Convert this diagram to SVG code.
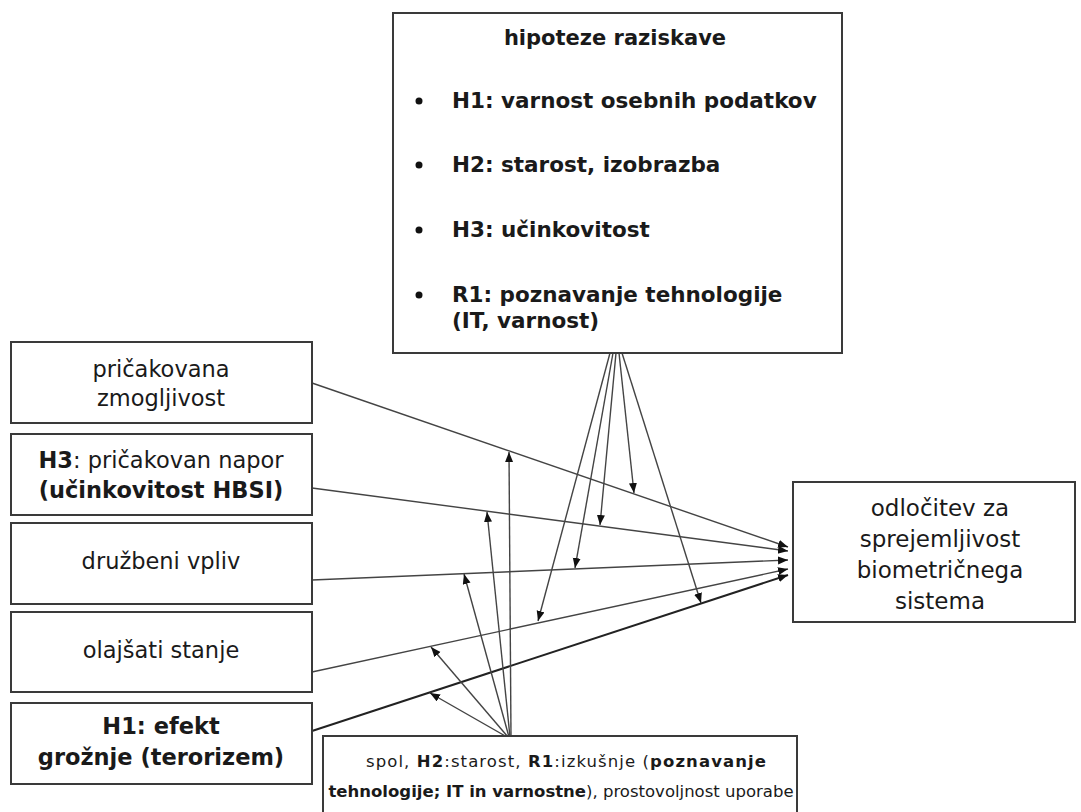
<svg xmlns="http://www.w3.org/2000/svg" width="1081" height="812" viewBox="0 0 1081 812">
<style>
.box{fill:#fff;stroke:#3a3a3a;stroke-width:2}
.t{font-family:"DejaVu Sans",Verdana,sans-serif;fill:#1a1a1a}
.b{font-weight:bold}
.c{text-anchor:middle}
.ar{stroke:#444;stroke-width:1.4;fill:none;marker-end:url(#ah)}
</style>
<defs>
<marker id="ah" markerUnits="userSpaceOnUse" markerWidth="11" markerHeight="9" refX="10" refY="4" orient="auto">
<path d="M0,0 L10,4 L0,8 z" fill="#111"/>
</marker>
</defs>
<rect width="1081" height="812" fill="#fff"/>

<g id="connectors">
<line class="ar" x1="312" y1="383" x2="788" y2="547"/>
<line class="ar" x1="312" y1="488" x2="788" y2="551"/>
<line class="ar" x1="312" y1="580" x2="788" y2="560"/>
<line class="ar" x1="312" y1="672" x2="788" y2="569"/>
<line class="ar" x1="312" y1="731" x2="788" y2="575" style="stroke:#222;stroke-width:2"/>
<line class="ar" x1="619" y1="353" x2="634" y2="493"/>
<line class="ar" x1="616" y1="353" x2="600" y2="525"/>
<line class="ar" x1="613" y1="353" x2="575" y2="568"/>
<line class="ar" x1="610" y1="353" x2="538" y2="621"/>
<line class="ar" x1="622" y1="353" x2="701" y2="603"/>
<line class="ar" x1="511" y1="737" x2="509" y2="452"/>
<line class="ar" x1="510" y1="737" x2="487" y2="512"/>
<line class="ar" x1="509" y1="737" x2="464" y2="574"/>
<line class="ar" x1="508" y1="737" x2="431" y2="647"/>
<line class="ar" x1="507" y1="737" x2="430" y2="693"/>
</g>

<g id="hypotheses">
<rect class="box" x="393" y="13" width="449" height="340"/>
<text class="t b c" x="615" y="45" font-size="21">hipoteze raziskave</text>
<circle cx="419" cy="101" r="3.5" fill="#111"/>
<circle cx="419" cy="165" r="3.5" fill="#111"/>
<circle cx="419" cy="230" r="3.5" fill="#111"/>
<circle cx="419" cy="295" r="3.5" fill="#111"/>
<text class="t b" x="452" y="108" font-size="21.5">H1: varnost osebnih podatkov</text>
<text class="t b" x="452" y="172" font-size="21.5">H2: starost, izobrazba</text>
<text class="t b" x="452" y="237" font-size="21.5">H3: učinkovitost</text>
<text class="t b" x="452" y="302" font-size="21.5">R1: poznavanje tehnologije</text>
<text class="t b" x="452" y="328" font-size="21.5">(IT, varnost)</text>
</g>

<g id="n1">
<rect class="box" x="11" y="342" width="301" height="81"/>
<text class="t c" x="161" y="377" font-size="22.5">pričakovana</text>
<text class="t c" x="161" y="406" font-size="22.5">zmogljivost</text>
</g>
<g id="n2">
<rect class="box" x="11" y="434" width="301" height="81"/>
<text class="t c" x="161" y="468" font-size="22.5"><tspan class="b">H3</tspan>: pričakovan napor</text>
<text class="t b c" x="161" y="498" font-size="22.5">(učinkovitost HBSI)</text>
</g>
<g id="n3">
<rect class="box" x="11" y="523" width="301" height="81"/>
<text class="t c" x="161" y="569" font-size="22.5">družbeni vpliv</text>
</g>
<g id="n4">
<rect class="box" x="11" y="612" width="301" height="80"/>
<text class="t c" x="161" y="658" font-size="22.5">olajšati stanje</text>
</g>
<g id="n5">
<rect class="box" x="11" y="703" width="301" height="81"/>
<text class="t b c" x="161" y="734" font-size="22.5">H1: efekt</text>
<text class="t b c" x="161" y="765" font-size="22.5">grožnje (terorizem)</text>
</g>

<g id="decision">
<rect class="box" x="793" y="482" width="282" height="140"/>
<text class="t c" x="940" y="516" font-size="23">odločitev za</text>
<text class="t c" x="940" y="547" font-size="23">sprejemljivost</text>
<text class="t c" x="940" y="578" font-size="23">biometričnega</text>
<text class="t c" x="940" y="609" font-size="23">sistema</text>
</g>

<g id="moderators">
<rect class="box" x="323" y="736" width="474" height="100"/>
<text class="t c" x="566" y="767" font-size="16.5" textLength="400" lengthAdjust="spacing">spol, <tspan class="b">H2</tspan>:starost, <tspan class="b">R1</tspan>:izkušnje (<tspan class="b">poznavanje</tspan></text>
<text class="t c" x="561" y="797" font-size="16.5">
<tspan class="b">tehnologije; IT in varnostne</tspan>), prostovoljnost uporabe</text>
</g>
</svg>
